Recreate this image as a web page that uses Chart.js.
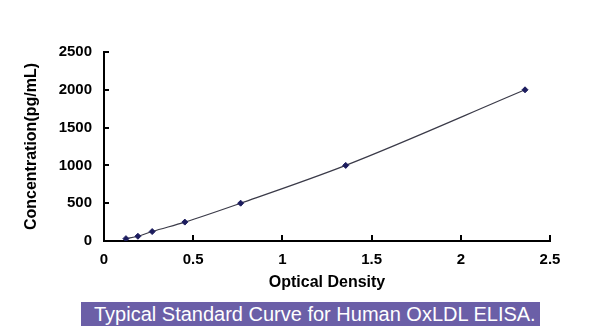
<!DOCTYPE html>
<html><head><meta charset="utf-8">
<script src="https://cdn.jsdelivr.net/npm/chart.js@4/dist/chart.umd.min.js"></script>
<style>
html,body{margin:0;padding:0;background:#fff;}
#wrap{position:relative;width:600px;height:336px;}
#c{position:absolute;left:0;top:0;}
#cap{position:absolute;left:81px;top:302px;width:459px;height:24px;background:#6b5fa7;color:#fff;
font-family:"Liberation Sans",Arial,sans-serif;font-size:20px;line-height:24px;white-space:nowrap;box-sizing:border-box;padding-left:13px;}
</style></head>
<body><div id="wrap"><canvas id="c" width="600" height="336"></canvas>
<div id="cap">Typical Standard Curve for Human OxLDL ELISA.</div></div>
<script>
const opticalDensity = [0.123, 0.19, 0.27, 0.453, 0.766, 1.355, 2.36];
const concentration = [31.25, 62.5, 125, 250, 500, 1000, 2000];
const xTitle = 'Optical Density';
const yTitle = 'Concentration(pg/mL)';

const FONT = '"Liberation Sans", Arial, sans-serif';
const innerTicks = {
  id: 'innerTicks',
  afterDraw(chart) {
    const ctx = chart.ctx, a = chart.chartArea;
    const xs = chart.scales.x, ys = chart.scales.y;
    ctx.save();
    ctx.strokeStyle = '#000';
    ctx.lineWidth = 2;
    ctx.beginPath();
    xs.ticks.forEach(t => { if (t.value === 0) return; const px = Math.round(xs.getPixelForValue(t.value)); ctx.moveTo(px, a.bottom); ctx.lineTo(px, a.bottom - 6); });
    ys.ticks.forEach(t => { if (t.value === 0) return; const py = Math.round(ys.getPixelForValue(t.value)); ctx.moveTo(a.left, py); ctx.lineTo(a.left + 5, py); });
    ctx.stroke();
    ctx.restore();
  }
};

new Chart(document.getElementById('c'), {
  type: 'line',
  data: {
    datasets: [{
      data: opticalDensity.map((v, i) => ({x: v, y: concentration[i]})),
      borderColor: '#3a3a48',
      borderWidth: 1.2,
      tension: 0.4,
      cubicInterpolationMode: 'monotone',
      pointStyle: 'rectRot',
      pointRadius: 3,
      pointBackgroundColor: '#1c1c5e',
      pointBorderColor: '#1c1c5e',
      pointBorderWidth: 1,
      fill: false
    }]
  },
  options: {
    responsive: false,
    animation: false,
    devicePixelRatio: 1,
    layout: {padding: {left: 0, top: 52, right: 50, bottom: 41}},
    plugins: {legend: {display: false}, tooltip: {enabled: false}},
    scales: {
      x: {
        type: 'linear', min: 0, max: 2.5,
        afterFit(s) { s.height = 54; },
        ticks: {stepSize: 0.5, color: '#000', font: {family: FONT, size: 15, weight: 'bold'}, padding: 10, maxRotation: 0,
          callback: v => String(v)},
        grid: {display: false, drawTicks: false},
        border: {display: true, color: '#000', width: 2},
        title: {display: true, text: xTitle, color: '#000', font: {family: FONT, size: 16, weight: 'bold'}, padding: {top: 4, bottom: 3}}
      },
      y: {
        type: 'linear', min: 0, max: 2500,
        afterFit(s) { s.width = 104; },
        ticks: {stepSize: 500, color: '#000', font: {family: FONT, size: 15, weight: 'bold'}, padding: 12,
          callback: v => String(v)},
        grid: {display: false, drawTicks: false},
        border: {display: true, color: '#000', width: 2},
        title: {display: true, text: yTitle, color: '#000', font: {family: FONT, size: 16, weight: 'bold'}, padding: {top: 22, bottom: 4}}
      }
    }
  },
  plugins: [innerTicks]
});
</script>
</body></html>
